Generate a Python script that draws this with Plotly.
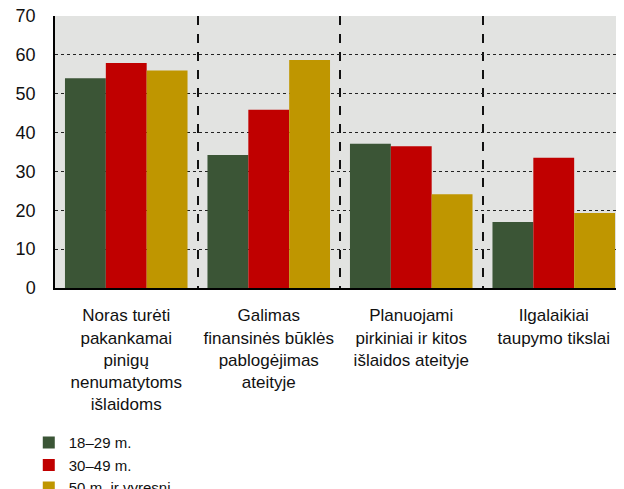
import plotly.graph_objects as go

categories = [
    "Noras turėti<br>pakankamai<br>pinigų<br>nenumatytoms<br>išlaidoms",
    "Galimas<br>finansinės būklės<br>pablogėjimas<br>ateityje",
    "Planuojami<br>pirkiniai ir kitos<br>išlaidos ateityje",
    "Ilgalaikiai<br>taupymo tikslai",
]
series_names = ["18–29 m.", "30–49 m.", "50 m. ir vyresni"]
vals_18_29 = [54.0, 34.2, 37.1, 17.0]
vals_30_49 = [57.9, 45.9, 36.5, 33.5]
vals_50 = [56.0, 58.7, 24.1, 19.3]
colors = ["#3b5536", "#c00000", "#bf9600"]
y_ticks = [0, 10, 20, 30, 40, 50, 60, 70]

FONT = "Liberation Sans, Arial, sans-serif"

fig = go.Figure()
for name, vals, col in zip(series_names, [vals_18_29, vals_30_49, vals_50], colors):
    fig.add_trace(go.Bar(x=categories, y=vals, name=name, marker_color=col,
                         marker_line_width=0))

fig.update_layout(
    width=624, height=489,
    margin=dict(l=47, r=7, t=8, b=209, autoexpand=False),
    paper_bgcolor="white",
    plot_bgcolor="#e2e3e1",
    barmode="group",
    bargap=0.14,
    bargroupgap=0,
    font=dict(family=FONT, size=16, color="#111111"),
    showlegend=True,
    legend=dict(
        x=-0.046, y=-0.508, xanchor="left", yanchor="top",
        orientation="v", font=dict(size=15, family=FONT),
        itemwidth=30, tracegroupgap=0, bgcolor="rgba(0,0,0,0)",
    ),
)
fig.update_xaxes(
    tickson="boundaries", showgrid=True, griddash="dash",
    gridcolor="#111111", gridwidth=2, tickangle=0, automargin=False,
    ticks="", showline=True, linecolor="#000000", linewidth=2,
    ticklabelstandoff=11,
    tickfont=dict(size=17, family=FONT),
)
fig.update_yaxes(
    range=[0, 70], tickvals=y_ticks, showgrid=True, griddash="dot",
    gridcolor="#222222", gridwidth=1, automargin=False,
    showline=True, linecolor="#000000", linewidth=1.5,
    ticks="", ticklabelstandoff=14, ticklabeloverflow="allow",
    tickfont=dict(size=18, family=FONT), zeroline=False,
)

fig.write_html("out.html")
